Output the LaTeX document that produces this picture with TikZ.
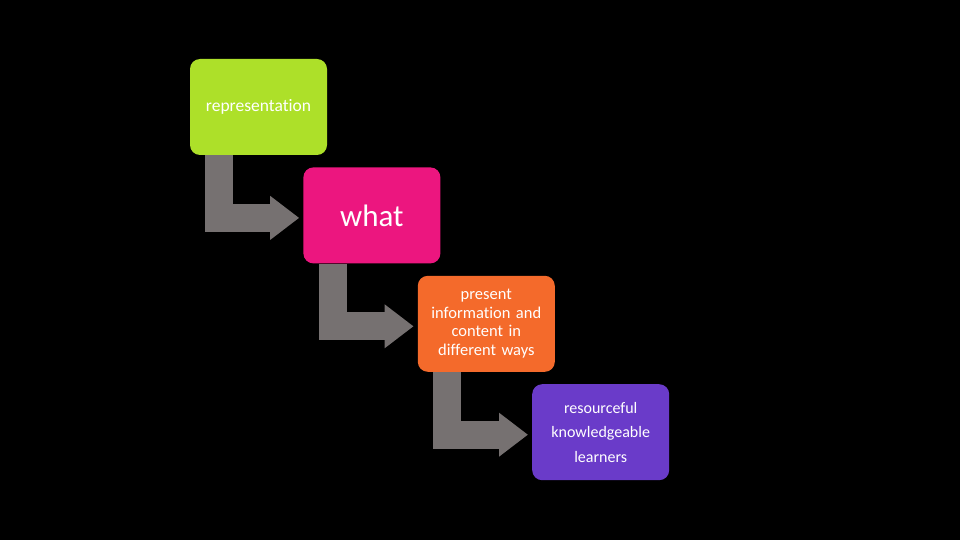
\documentclass[tikz,border=0pt]{standalone}
\usepackage{fontspec}
\setmainfont[Ligatures=NoCommon]{Carlito}
\usepackage{xcolor}
\usetikzlibrary{arrows.meta,positioning}
\definecolor{olime}{HTML}{ADE029}
\definecolor{opink}{HTML}{EC167F}
\definecolor{oorange}{HTML}{F46A2B}
\definecolor{opurple}{HTML}{6A3BC9}
\definecolor{oarrow}{HTML}{767171}

\begin{document}
\begin{tikzpicture}[
  x=1pt,y=-1pt,
  font=\fontsize{16.5}{18.5}\selectfont,
  box/.style={rounded corners=10pt,text=white,align=center,
              minimum width=137pt,minimum height=96pt,inner sep=2pt},
  flow/.style={draw=oarrow,line width=28pt,shorten >=4pt,
               -{Triangle[length=29pt,width=42pt]}}
]
\useasboundingbox[fill=black] (0,0) rectangle (960,540);

\node[box,fill=olime,font=\fontsize{17.5}{20}\selectfont] (rep)
  at (258.5,107) {representation};
\node[box,fill=opink,below right=12pt and -24pt of rep,
      font=\fontsize{31}{36}\selectfont] (what) {what};
\node[box,fill=oorange,below right=12pt and -23pt of what,
      text width=128pt] (ways)
  {present\\ information and\\ content in\\ different ways};
\node[box,fill=opurple,below right=12pt and -23pt of ways,
      font=\fontsize{16}{24.5}\selectfont] (learn)
  {resourceful\\ knowledgeable\\ learners};

\draw[flow] ([xshift=29.5pt]rep.south west) |- ([yshift=-2.5pt]what.west);
\draw[flow] ([xshift=29.5pt]what.south west) |- ([yshift=-2.5pt]ways.west);
\draw[flow] ([xshift=29.5pt]ways.south west) |- ([yshift=-2.5pt]learn.west);
\end{tikzpicture}
\end{document}
